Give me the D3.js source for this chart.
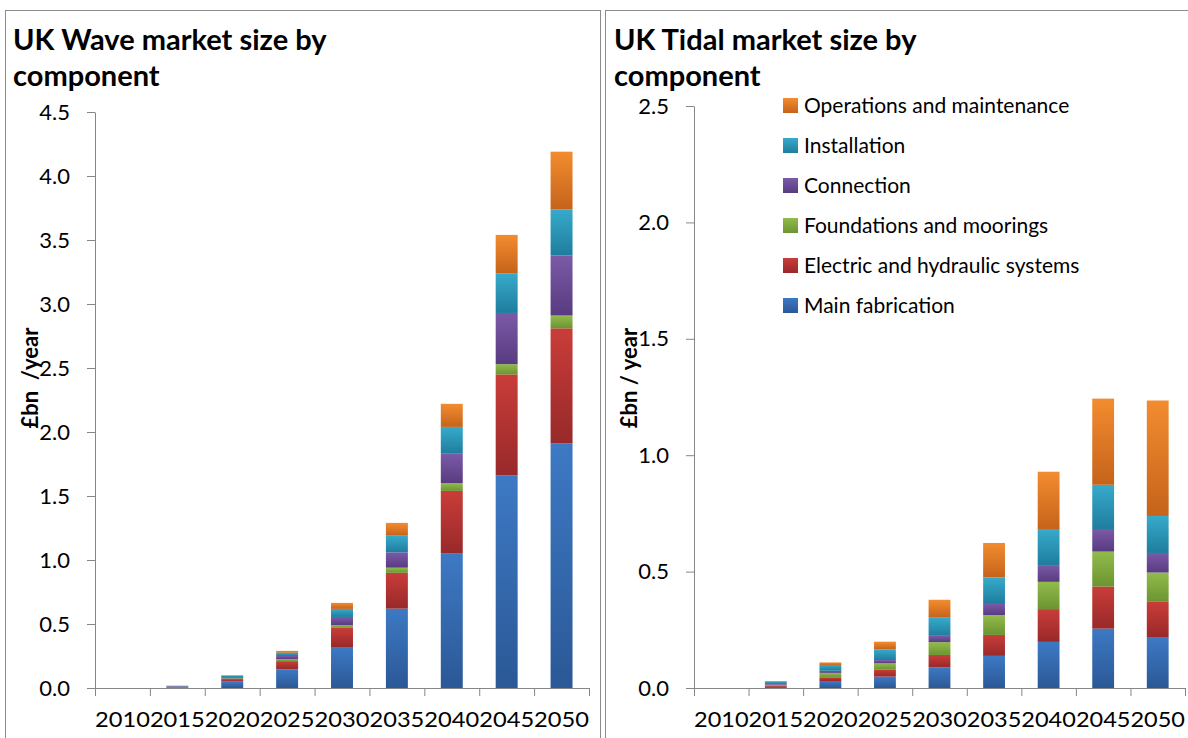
<!DOCTYPE html>
<html>
<head>
<meta charset="utf-8">
<script src="https://cdn.jsdelivr.net/npm/d3@7"></script>
<style>
  body { margin: 0; background: #fff; }
  svg text { font-family: Lato, "Open Sans", sans-serif; fill: #000; }
</style>
</head>
<body>
<div id="chart"></div>
<script>
// categories
const years = ["2010", "2015", "2020", "2025", "2030", "2035", "2040", "2045", "2050"];
const components = ["Main fabrication", "Electric and hydraulic systems", "Foundations and moorings",
                    "Connection", "Installation", "Operations and maintenance"];

// UK Wave (£bn / year)
const waveMain        = [0, 0.005, 0.05,  0.146, 0.32,  0.62, 1.05, 1.66, 1.91];
const waveElectric    = [0, 0.003, 0.02,  0.064, 0.15,  0.28, 0.49, 0.79, 0.90];
const waveFoundations = [0, 0.001, 0.005, 0.014, 0.02,  0.04, 0.06, 0.08, 0.10];
const waveConnection  = [0, 0.005, 0.01,  0.026, 0.065, 0.12, 0.23, 0.40, 0.47];
const waveInstall     = [0, 0.003, 0.01,  0.026, 0.063, 0.13, 0.21, 0.31, 0.36];
const waveOM          = [0, 0.002, 0.005, 0.014, 0.047, 0.10, 0.18, 0.30, 0.45];

// UK Tidal (£bn / year)
const tidalMain        = [0, 0.005, 0.03,  0.049, 0.089, 0.138, 0.198, 0.255, 0.216];
const tidalElectric    = [0, 0.004, 0.016, 0.031, 0.053, 0.090, 0.141, 0.181, 0.154];
const tidalFoundations = [0, 0.005, 0.019, 0.026, 0.055, 0.085, 0.117, 0.150, 0.126];
const tidalConnection  = [0, 0.003, 0.009, 0.014, 0.027, 0.048, 0.072, 0.097, 0.084];
const tidalInstall     = [0, 0.010, 0.025, 0.046, 0.078, 0.114, 0.155, 0.190, 0.159];
const tidalOM          = [0, 0.003, 0.011, 0.033, 0.077, 0.148, 0.246, 0.370, 0.496];

const waveTicks  = [0, 0.5, 1, 1.5, 2, 2.5, 3, 3.5, 4, 4.5];
const tidalTicks = [0, 0.5, 1, 1.5, 2, 2.5];

// top / bottom shades for each component
const colTop    = ["#3d79c4", "#c93d39", "#92bb4c", "#7b5aa7", "#37aacb", "#f38c30"];
const colBottom = ["#2b5896", "#98292a", "#6c9431", "#583b80", "#1f7d9e", "#c5631a"];

const svg = d3.select("#chart").append("svg")
    .attr("width", 1188)
    .attr("height", 738);

// gradients
const defs = svg.append("defs");
components.forEach((c, i) => {
    let g = defs.append("linearGradient")
        .attr("id", "grad" + i)
        .attr("x1", 0).attr("y1", 0).attr("x2", 0).attr("y2", 1);
    g.append("stop").attr("offset", "0%").attr("stop-color", colTop[i]);
    g.append("stop").attr("offset", "100%").attr("stop-color", colBottom[i]);
});

// panel borders
svg.append("rect").attr("x", 5.5).attr("y", 10.5).attr("width", 595).attr("height", 760)
    .attr("fill", "none").attr("stroke", "#8c8c8c");
svg.append("rect").attr("x", 605.5).attr("y", 10.5).attr("width", 600).attr("height", 760)
    .attr("fill", "none").attr("stroke", "#8c8c8c");

function drawChart(cfg) {
    let g = svg.append("g");

    let rows = years.map((yr, i) => {
        let r = { year: yr };
        cfg.series.forEach((s, k) => { r[components[k]] = s[i]; });
        return r;
    });

    let stack = d3.stack().keys(components)(rows);

    let x = d3.scaleBand()
        .domain(years)
        .range([cfg.left, cfg.right])
        .paddingInner(0.6)
        .paddingOuter(0.3);

    let y = d3.scaleLinear()
        .domain([0, d3.max(cfg.ticks)])
        .range([688, cfg.top]);

    // bars
    stack.forEach((layer, k) => {
        g.append("g")
            .selectAll("rect")
            .data(layer)
            .enter()
            .append("rect")
            .attr("x", d => x(d.data.year))
            .attr("width", x.bandwidth())
            .attr("y", d => y(d[1]))
            .attr("height", d => y(d[0]) - y(d[1]))
            .attr("fill", "url(#grad" + k + ")");
    });

    // y axis
    let yAxis = g.append("g")
        .attr("transform", `translate(${cfg.left},0)`)
        .call(d3.axisLeft(y).tickValues(cfg.ticks).tickFormat(d3.format(".1f")).tickSize(8).tickSizeOuter(0).tickPadding(17));
    yAxis.selectAll("text").style("font-size", "22px");

    // x axis: boundary ticks + labels
    let xb = d3.scaleLinear().domain([0, years.length]).range([cfg.left, cfg.right]);
    g.append("g")
        .attr("transform", "translate(0,688)")
        .call(d3.axisBottom(xb).ticks(years.length).tickFormat("").tickSize(8).tickSizeOuter(0));

    let xAxis = g.append("g")
        .attr("transform", "translate(0,688)")
        .call(d3.axisBottom(x).tickSize(0).tickPadding(23));
    xAxis.select(".domain").remove();
    xAxis.selectAll("text")
        .style("font-size", "22px")
        .attr("textLength", x.step())
        .attr("lengthAdjust", "spacingAndGlyphs");

    g.selectAll(".domain").attr("stroke", "#868686");
    g.selectAll(".tick line").attr("stroke", "#868686");

    // title
    cfg.title.forEach((t, i) => {
        g.append("text")
            .attr("x", cfg.titleX)
            .attr("y", 50 + i * 36)
            .style("font-size", "29px")
            .style("font-weight", "bold")
            .text(t);
    });

    // y axis title
    g.append("text")
        .attr("transform", `translate(${cfg.yTitleX},378) rotate(-90)`)
        .attr("text-anchor", "middle")
        .style("font-size", "22px")
        .style("font-weight", "bold")
        .style("white-space", "pre")
        .text(cfg.yTitle);

    return g;
}

drawChart({
    series: [waveMain, waveElectric, waveFoundations, waveConnection, waveInstall, waveOM],
    ticks: waveTicks, left: 95, right: 589, top: 112,
    title: ["UK Wave market size by", "component"], titleX: 13,
    yTitle: "£bn  /year", yTitleX: 38
});

let tidal = drawChart({
    series: [tidalMain, tidalElectric, tidalFoundations, tidalConnection, tidalInstall, tidalOM],
    ticks: tidalTicks, left: 694, right: 1185, top: 106,
    title: ["UK Tidal market size by", "component"], titleX: 614,
    yTitle: "£bn / year", yTitleX: 637
});

// legend
let legend = tidal.append("g").attr("transform", "translate(783,0)");
components.slice().reverse().forEach((c, i) => {
    let k = components.length - 1 - i;
    let item = legend.append("g").attr("transform", `translate(0,${105 + i * 40})`);
    item.append("rect")
        .attr("x", 0).attr("y", -7)
        .attr("width", 15).attr("height", 15)
        .attr("fill", "url(#grad" + k + ")");
    item.append("text")
        .attr("x", 21).attr("y", 8)
        .style("font-size", "21px")
        .text(c);
});
</script>
</body>
</html>
